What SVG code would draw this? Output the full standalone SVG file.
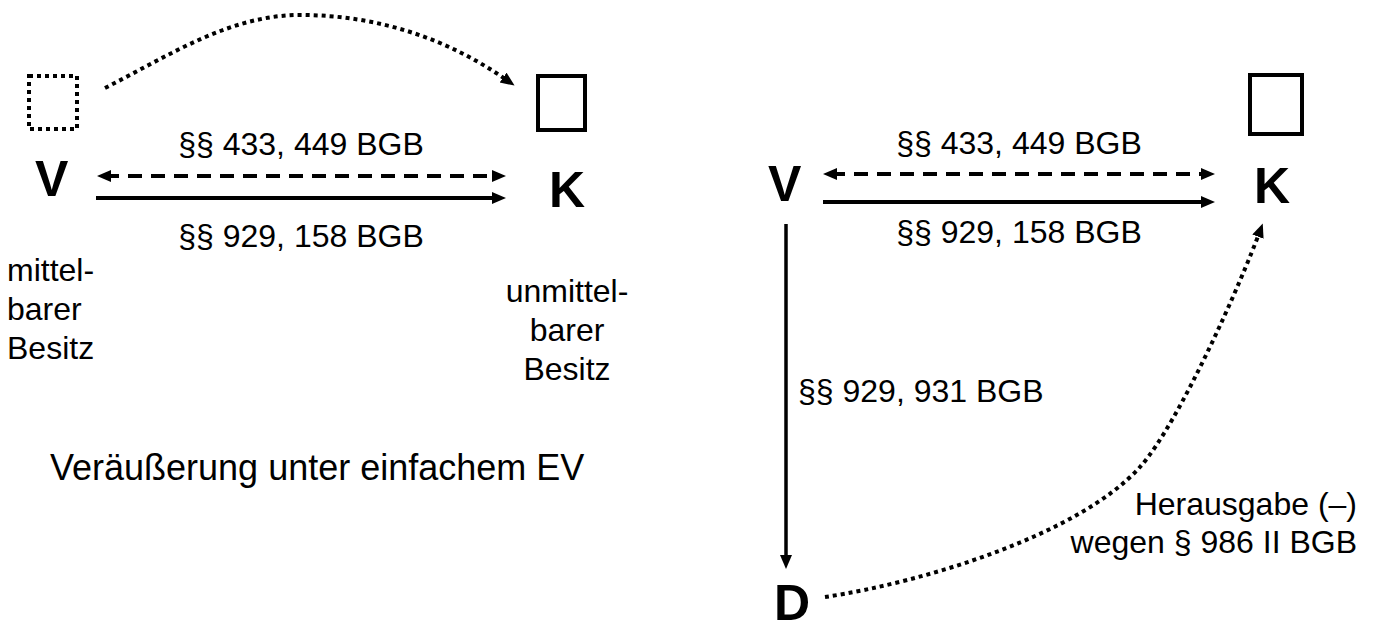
<svg xmlns="http://www.w3.org/2000/svg" width="1373" height="624" viewBox="0 0 1373 624">
<style>
.t{font-family:"Liberation Sans",Arial,sans-serif;font-size:32px;fill:#000}
.big{font-family:"Liberation Sans",Arial,sans-serif;font-size:36px;fill:#000}
.n{font-family:"Liberation Sans",Arial,sans-serif;font-size:50px;font-weight:bold;fill:#000}
.ln{fill:none;stroke:#000;stroke-width:4}
.dash{stroke-dasharray:14 9}
.dot{stroke-dasharray:4 4}
.box{fill:none;stroke:#000;stroke-width:4}
</style>
<defs>
<marker id="ah" markerUnits="userSpaceOnUse" markerWidth="16" markerHeight="14" refX="6" refY="6" orient="auto-start-reverse" viewBox="0 0 16 14">
<path d="M0,0 L14,6 L0,12 z" fill="#000"/>
</marker>
</defs>
<g id="node-V1">
<rect class="box dot" x="29" y="76" width="48" height="53"/>
<text class="n" x="35" y="196">V</text>
<text class="t" x="7" y="281">mittel-</text>
<text class="t" x="7" y="320">barer</text>
<text class="t" x="7" y="359">Besitz</text>
</g>
<g id="node-K1">
<rect class="box" x="538" y="76" width="47" height="54"/>
<text class="n" x="549" y="207">K</text>
<text class="t" x="567" y="302" text-anchor="middle">unmittel-</text>
<text class="t" x="567" y="341" text-anchor="middle">barer</text>
<text class="t" x="567" y="380" text-anchor="middle">Besitz</text>
</g>
<g id="caption">
<text class="big" x="50" y="480">Veräußerung unter einfachem EV</text>
</g>
<g id="node-V2">
<text class="n" x="768" y="201">V</text>
</g>
<g id="node-K2">
<rect class="box" x="1250" y="75" width="52" height="59"/>
<text class="n" x="1254" y="203">K</text>
</g>
<g id="node-D">
<text class="n" x="774" y="620">D</text>
</g>
<g id="connectors">
<path class="ln dot" d="M105,88 C170,55 230,15 300,15 C380,15 450,40 508,81" marker-end="url(#ah)"/>
<path class="ln dash" d="M105,176 L498,176" marker-start="url(#ah)" marker-end="url(#ah)"/>
<path class="ln" d="M96,198 L498,198" marker-end="url(#ah)"/>
<path class="ln dash" d="M831,174 L1207,174" marker-start="url(#ah)" marker-end="url(#ah)"/>
<path class="ln" d="M823,202 L1207,202" marker-end="url(#ah)"/>
<path class="ln" style="stroke-width:3.5" d="M786,224 L786,561" marker-end="url(#ah)"/>
<path class="ln dot" d="M825,597 C925,582 1080,534 1140,467 C1180,422 1242,280 1260,231" marker-end="url(#ah)"/>
</g>
<g id="labels">
<text class="t" x="301" y="155" text-anchor="middle">§§ 433, 449 BGB</text>
<text class="t" x="301" y="247" text-anchor="middle">§§ 929, 158 BGB</text>
<text class="t" x="1019" y="154" text-anchor="middle">§§ 433, 449 BGB</text>
<text class="t" x="1019" y="243" text-anchor="middle">§§ 929, 158 BGB</text>
<text class="t" x="798" y="402">§§ 929, 931 BGB</text>
<text class="t" x="1357" y="515" text-anchor="end">Herausgabe (–)</text>
<text class="t" x="1357" y="553" text-anchor="end">wegen § 986 II BGB</text>
</g>
</svg>
